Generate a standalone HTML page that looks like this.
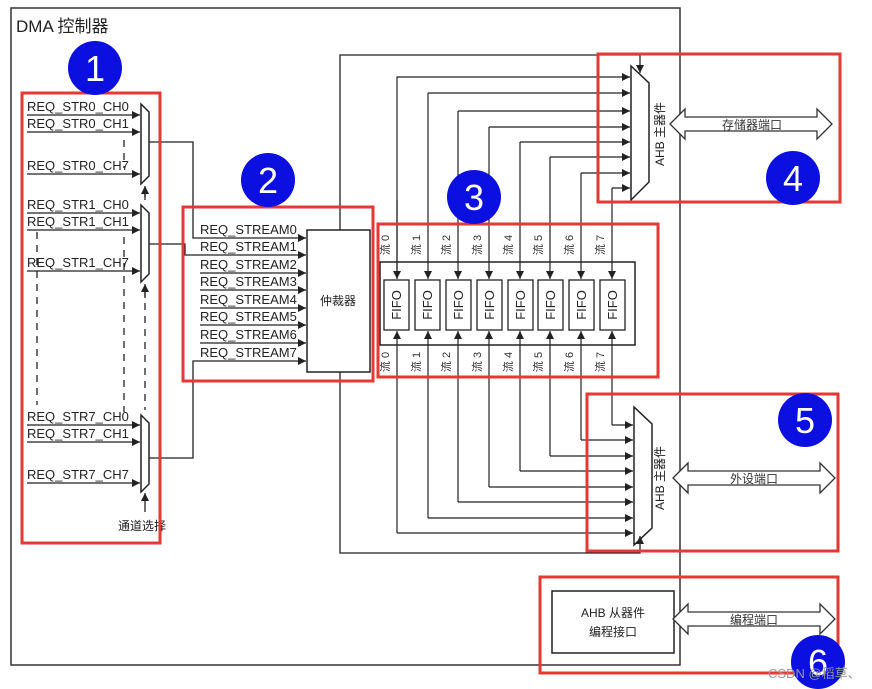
<!DOCTYPE html>
<html><head><meta charset="utf-8"><style>html,body{margin:0;padding:0;background:#fff}svg{display:block}</style></head>
<body>
<svg width="872" height="689" viewBox="0 0 872 689" xmlns="http://www.w3.org/2000/svg" font-family="Liberation Sans, Noto Sans CJK SC, sans-serif">
<defs>
<marker id="a" viewBox="0 0 10 10" refX="10" refY="5" markerWidth="8" markerHeight="8" markerUnits="userSpaceOnUse" orient="auto"><path d="M0,0L10,5L0,10z" fill="#222"/></marker>
</defs>
<rect width="872" height="689" fill="#fff"/>
<rect x="11" y="8" width="669" height="657" fill="none" stroke="#333" stroke-width="1.5"/>
<text x="16" y="32" font-size="17" fill="#222">DMA 控制器</text>

<g stroke="#222" stroke-width="1.3" fill="none">
<line x1="27" y1="115" x2="140" y2="115" marker-end="url(#a)"/>
<line x1="27" y1="132" x2="140" y2="132" marker-end="url(#a)"/>
<line x1="27" y1="174" x2="140" y2="174" marker-end="url(#a)"/>
<line x1="27" y1="213" x2="140" y2="213" marker-end="url(#a)"/>
<line x1="27" y1="230" x2="140" y2="230" marker-end="url(#a)"/>
<line x1="27" y1="271" x2="140" y2="271" marker-end="url(#a)"/>
<line x1="27" y1="425" x2="140" y2="425" marker-end="url(#a)"/>
<line x1="27" y1="442" x2="140" y2="442" marker-end="url(#a)"/>
<line x1="27" y1="483" x2="140" y2="483" marker-end="url(#a)"/>
<path d="M141,104 L149,112 L149,176 L141,184 Z" stroke-width="1.5"/>
<path d="M141,205 L149,213 L149,274 L141,282 Z" stroke-width="1.5"/>
<path d="M141,415 L149,423 L149,484 L141,492 Z" stroke-width="1.5"/>
<g stroke-dasharray="7,6">
<line x1="124" y1="140" x2="124" y2="168"/>
<line x1="124" y1="237" x2="124" y2="412"/>
<line x1="37" y1="232" x2="37" y2="405"/>
<line x1="145" y1="290" x2="145" y2="410"/>
<line x1="145" y1="190" x2="145" y2="200"/>
</g>
<line x1="145" y1="200" x2="145" y2="186" marker-end="url(#a)"/>
<line x1="145" y1="298" x2="145" y2="284" marker-end="url(#a)"/>
<line x1="145" y1="512" x2="145" y2="493" marker-end="url(#a)"/>
<polyline points="149,142 193,142 193,238 306,238" marker-end="url(#a)"/>
<polyline points="149,244 185,244 185,255 306,255" marker-end="url(#a)"/>
<polyline points="149,458 193,458 193,361 306,361" marker-end="url(#a)"/>
<line x1="200" y1="273" x2="306" y2="273" marker-end="url(#a)"/>
<line x1="200" y1="290" x2="306" y2="290" marker-end="url(#a)"/>
<line x1="200" y1="308" x2="306" y2="308" marker-end="url(#a)"/>
<line x1="200" y1="325" x2="306" y2="325" marker-end="url(#a)"/>
<line x1="200" y1="343" x2="306" y2="343" marker-end="url(#a)"/>
<rect x="307" y="230" width="63" height="142" stroke-width="1.5"/>
<polyline points="340,230 340,55 640,55 640,73" marker-end="url(#a)"/>
<polyline points="340,372 340,553 640,553 640,536" marker-end="url(#a)"/>
<rect x="380" y="262" width="255" height="83" stroke-width="1.5"/>
<path d="M631,66 L649,83 L649,182 L631,200 Z" stroke-width="1.5"/>
<path d="M634,407 L652,424 L652,528 L634,545 Z" stroke-width="1.5"/>
<rect x="552" y="591" width="122" height="62" stroke-width="1.5"/>
</g>

<g stroke="#222" stroke-width="1.2" fill="none">
<polyline points="397,279 397,77 630,77" marker-end="url(#a)"/>
<line x1="397" y1="200" x2="397" y2="279" marker-end="url(#a)"/>
<polyline points="428,93 428,279" marker-end="url(#a)"/>
<polyline points="458,111 458,279" marker-end="url(#a)"/>
<polyline points="489,127 489,279" marker-end="url(#a)"/>
<polyline points="520,142 520,279" marker-end="url(#a)"/>
<polyline points="550,157 550,279" marker-end="url(#a)"/>
<polyline points="581,173 581,279" marker-end="url(#a)"/>
<polyline points="612,188 612,279" marker-end="url(#a)"/>
<line x1="428" y1="93" x2="630" y2="93" marker-end="url(#a)"/>
<line x1="458" y1="111" x2="630" y2="111" marker-end="url(#a)"/>
<line x1="489" y1="127" x2="630" y2="127" marker-end="url(#a)"/>
<line x1="520" y1="142" x2="630" y2="142" marker-end="url(#a)"/>
<line x1="550" y1="157" x2="630" y2="157" marker-end="url(#a)"/>
<line x1="581" y1="173" x2="630" y2="173" marker-end="url(#a)"/>
<line x1="612" y1="188" x2="630" y2="188" marker-end="url(#a)"/>
<polyline points="397,533 397,331" marker-end="url(#a)"/>
<polyline points="428,518 428,331" marker-end="url(#a)"/>
<polyline points="458,502 458,331" marker-end="url(#a)"/>
<polyline points="489,487 489,331" marker-end="url(#a)"/>
<polyline points="520,471 520,331" marker-end="url(#a)"/>
<polyline points="550,456 550,331" marker-end="url(#a)"/>
<polyline points="581,440 581,331" marker-end="url(#a)"/>
<polyline points="612,425 612,331" marker-end="url(#a)"/>
<line x1="397" y1="533" x2="633" y2="533" marker-end="url(#a)"/>
<line x1="428" y1="518" x2="633" y2="518" marker-end="url(#a)"/>
<line x1="458" y1="502" x2="633" y2="502" marker-end="url(#a)"/>
<line x1="489" y1="487" x2="633" y2="487" marker-end="url(#a)"/>
<line x1="520" y1="471" x2="633" y2="471" marker-end="url(#a)"/>
<line x1="550" y1="456" x2="633" y2="456" marker-end="url(#a)"/>
<line x1="581" y1="440" x2="633" y2="440" marker-end="url(#a)"/>
<line x1="612" y1="425" x2="633" y2="425" marker-end="url(#a)"/>
</g>
<g stroke="#222" stroke-width="1.3" fill="#fff">
<rect x="384" y="280" width="25" height="50"/><rect x="415" y="280" width="25" height="50"/>
<rect x="446" y="280" width="25" height="50"/><rect x="477" y="280" width="25" height="50"/>
<rect x="508" y="280" width="25" height="50"/><rect x="538" y="280" width="25" height="50"/>
<rect x="569" y="280" width="25" height="50"/><rect x="600" y="280" width="25" height="50"/>
</g>
<g font-size="13" fill="#222" text-anchor="middle">
<text transform="translate(401,305) rotate(-90)">FIFO</text>
<text transform="translate(432,305) rotate(-90)">FIFO</text>
<text transform="translate(463,305) rotate(-90)">FIFO</text>
<text transform="translate(494,305) rotate(-90)">FIFO</text>
<text transform="translate(525,305) rotate(-90)">FIFO</text>
<text transform="translate(555,305) rotate(-90)">FIFO</text>
<text transform="translate(586,305) rotate(-90)">FIFO</text>
<text transform="translate(617,305) rotate(-90)">FIFO</text>
</g>
<g font-size="11" fill="#333" text-anchor="middle">
<text transform="translate(389,245) rotate(-90)">流 0</text>
<text transform="translate(420,245) rotate(-90)">流 1</text>
<text transform="translate(450,245) rotate(-90)">流 2</text>
<text transform="translate(481,245) rotate(-90)">流 3</text>
<text transform="translate(512,245) rotate(-90)">流 4</text>
<text transform="translate(542,245) rotate(-90)">流 5</text>
<text transform="translate(573,245) rotate(-90)">流 6</text>
<text transform="translate(604,245) rotate(-90)">流 7</text>
<text transform="translate(389,362) rotate(-90)">流 0</text>
<text transform="translate(420,362) rotate(-90)">流 1</text>
<text transform="translate(450,362) rotate(-90)">流 2</text>
<text transform="translate(481,362) rotate(-90)">流 3</text>
<text transform="translate(512,362) rotate(-90)">流 4</text>
<text transform="translate(542,362) rotate(-90)">流 5</text>
<text transform="translate(573,362) rotate(-90)">流 6</text>
<text transform="translate(604,362) rotate(-90)">流 7</text>
</g>

<g font-size="13" fill="#222">
<text x="27" y="111">REQ_STR0_CH0</text><text x="27" y="128">REQ_STR0_CH1</text><text x="27" y="170">REQ_STR0_CH7</text>
<text x="27" y="209">REQ_STR1_CH0</text><text x="27" y="226">REQ_STR1_CH1</text><text x="27" y="267">REQ_STR1_CH7</text>
<text x="27" y="421">REQ_STR7_CH0</text><text x="27" y="438">REQ_STR7_CH1</text><text x="27" y="479">REQ_STR7_CH7</text>
<text x="200" y="234">REQ_STREAM0</text><text x="200" y="251">REQ_STREAM1</text><text x="200" y="269">REQ_STREAM2</text>
<text x="200" y="286">REQ_STREAM3</text><text x="200" y="304">REQ_STREAM4</text><text x="200" y="321">REQ_STREAM5</text>
<text x="200" y="339">REQ_STREAM6</text><text x="200" y="357">REQ_STREAM7</text>
</g>
<g font-size="12" fill="#222">
<text x="118" y="530">通道选择</text>
<text x="320" y="305">仲裁器</text>
<text transform="translate(664,166) rotate(-90)">AHB 主器件</text>
<text transform="translate(664,510) rotate(-90)">AHB 主器件</text>
<text x="613" y="617" text-anchor="middle">AHB 从器件</text>
<text x="613" y="636" text-anchor="middle">编程接口</text>
</g>

<g stroke="#333" stroke-width="1.3" fill="#fff">
<path d="M670,124 L685,109 L685,117 L817,117 L817,109 L832,124 L817,139 L817,131 L685,131 L685,139 Z"/>
<path d="M673,478 L688,463 L688,471 L820,471 L820,463 L835,478 L820,493 L820,485 L688,485 L688,493 Z"/>
<path d="M673,619 L688,604 L688,612 L820,612 L820,604 L835,619 L820,634 L820,626 L688,626 L688,634 Z"/>
</g>
<g font-size="12" fill="#333" text-anchor="middle">
<text x="752" y="129">存储器端口</text>
<text x="754" y="483">外设端口</text>
<text x="754" y="624">编程端口</text>
</g>

<g stroke="#e53935" stroke-width="3" fill="none">
<rect x="22" y="93" width="138" height="450"/>
<rect x="183" y="207" width="190" height="174"/>
<rect x="378" y="224" width="280" height="153"/>
<rect x="598" y="54" width="242" height="148"/>
<rect x="587" y="394" width="251" height="157"/>
<rect x="540" y="577" width="298" height="96"/>
</g>

<g fill="#0b10e0">
<circle cx="95" cy="68" r="27"/><circle cx="268" cy="180" r="27"/><circle cx="474" cy="197" r="27"/>
<circle cx="793" cy="178" r="27"/><circle cx="805" cy="420" r="27"/><circle cx="818" cy="662" r="27"/>
</g>
<g fill="#fff" font-size="36" text-anchor="middle">
<text x="95" y="81">1</text><text x="268" y="193">2</text><text x="474" y="210">3</text>
<text x="793" y="191">4</text><text x="805" y="433">5</text><text x="818" y="675">6</text>
</g>
<text x="768" y="678" font-size="13" fill="#999">CSDN @稻草、</text>
</svg>
</body></html>
